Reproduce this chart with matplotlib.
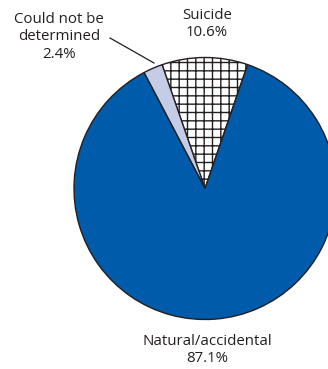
import matplotlib
matplotlib.use("Agg")
import matplotlib.pyplot as plt

categories = ["Suicide", "Could not be\ndetermined", "Natural/accidental"]
values = [10.6, 2.4, 87.1]
pct_labels = ["10.6%", "2.4%", "87.1%"]
colors = ["white", "#C5CDE6", "#005BAA"]
hatches = ["++", "", ""]

W, H = 328, 369
fig = plt.figure(figsize=(W / 100, H / 100), dpi=100)
ax = fig.add_axes([0, 0, 1, 1])

cx, cy, r = 205, H - 188.5, 131
wedges, _ = ax.pie(values, colors=colors, startangle=71, counterclock=True,
                   center=(cx, cy), radius=r,
                   wedgeprops=dict(edgecolor="#231F20", linewidth=1.0))
for w, h in zip(wedges, hatches):
    w.set_hatch(h)

ax.set_xlim(0, W)
ax.set_ylim(0, H)
ax.set_aspect("equal")
ax.axis("off")

tc = "#231F20"
fs = 10.8
font = "Open Sans"
ls = 1.2
ax.text(207, H - 24, f"{categories[0]}\n{pct_labels[0]}", ha="center", va="center",
        fontsize=fs, color=tc, family=font, linespacing=ls)
ax.text(59, H - 37, f"{categories[1]}\n{pct_labels[1]}", ha="center", va="center",
        fontsize=fs, color=tc, family=font, linespacing=ls)
ax.text(207, H - 350, f"{categories[2]}\n{pct_labels[2]}", ha="center", va="center",
        fontsize=fs, color=tc, family=font, linespacing=ls)
ax.plot([110, 154], [H - 38, H - 63], color=tc, linewidth=0.9)

fig.savefig("out.png", dpi=100)
